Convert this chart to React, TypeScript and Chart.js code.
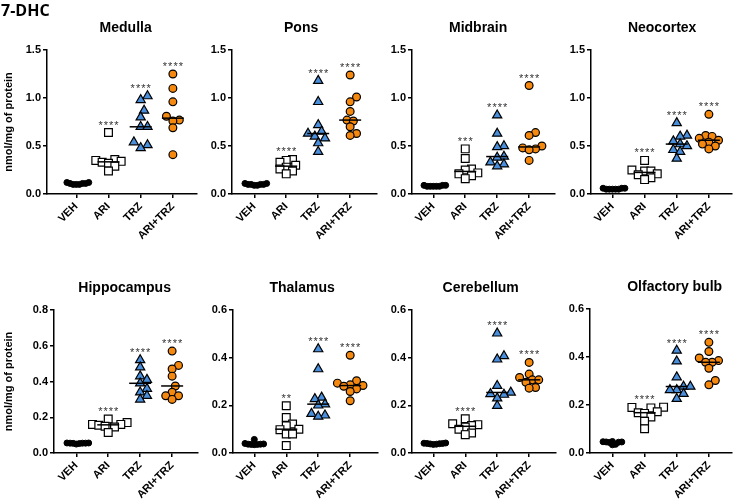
import React, { useEffect, useRef } from 'react';
import { Chart, registerables } from 'chart.js';
Chart.register(...registerables);

// ---------- data ----------
const PAGE_TITLE = '7-DHC';
const Y_LABEL = 'nmol/mg of protein';
const GROUPS = ['VEH', 'ARI', 'TRZ', 'ARI+TRZ'];
const REGIONS = ['Medulla', 'Pons', 'Midbrain', 'Neocortex', 'Hippocampus', 'Thalamus', 'Cerebellum', 'Olfactory bulb'];
const Y_MAX = [1.5, 1.5, 1.5, 1.5, 0.8, 0.6, 0.6, 0.6];
const Y_STEP = [0.5, 0.5, 0.5, 0.5, 0.2, 0.2, 0.2, 0.2];

const MEDULLA = [
  [0.11, 0.10, 0.12, 0.11, 0.10, 0.11, 0.12, 0.10],
  [0.64, 0.36, 0.35, 0.34, 0.33, 0.32, 0.29, 0.24],
  [1.02, 0.98, 0.87, 0.80, 0.70, 0.70, 0.54, 0.51, 0.48],
  [1.25, 1.10, 0.96, 0.81, 0.77, 0.76, 0.69, 0.41],
];
const PONS = [
  [0.11, 0.10, 0.10, 0.09, 0.10, 0.11, 0.09, 0.10],
  [0.36, 0.35, 0.33, 0.30, 0.28, 0.26, 0.24, 0.21],
  [1.18, 0.96, 0.72, 0.65, 0.63, 0.60, 0.58, 0.53, 0.44],
  [1.24, 1.01, 0.96, 0.86, 0.77, 0.76, 0.70, 0.63, 0.61],
];
const MIDBRAIN = [
  [0.09, 0.08, 0.08, 0.09, 0.08, 0.08, 0.09, 0.08],
  [0.47, 0.37, 0.26, 0.25, 0.22, 0.21, 0.19, 0.16],
  [0.82, 0.63, 0.50, 0.49, 0.39, 0.38, 0.33, 0.31, 0.29],
  [1.13, 0.64, 0.61, 0.50, 0.48, 0.47, 0.46, 0.35],
];
const NEOCORTEX = [
  [0.06, 0.05, 0.05, 0.06, 0.05, 0.05, 0.06, 0.05],
  [0.35, 0.25, 0.24, 0.24, 0.21, 0.20, 0.17, 0.15],
  [0.74, 0.61, 0.60, 0.55, 0.52, 0.50, 0.46, 0.44, 0.37],
  [0.83, 0.61, 0.60, 0.58, 0.56, 0.54, 0.52, 0.50, 0.47],
];
const HIPPOCAMPUS = [
  [0.056, 0.055, 0.054, 0.056, 0.053, 0.055, 0.050, 0.055],
  [0.19, 0.17, 0.16, 0.16, 0.155, 0.15, 0.145, 0.115],
  [0.52, 0.48, 0.43, 0.41, 0.39, 0.36, 0.34, 0.32, 0.30],
  [0.57, 0.49, 0.47, 0.43, 0.375, 0.34, 0.32, 0.32, 0.30],
];
const THALAMUS = [
  [0.057, 0.040, 0.038, 0.037, 0.036, 0.037, 0.036, 0.035],
  [0.198, 0.149, 0.122, 0.114, 0.100, 0.098, 0.080, 0.080, 0.031],
  [0.436, 0.352, 0.233, 0.227, 0.205, 0.200, 0.165, 0.158, 0.153],
  [0.410, 0.303, 0.293, 0.286, 0.283, 0.280, 0.269, 0.258, 0.219],
];
const CEREBELLUM = [
  [0.042, 0.040, 0.039, 0.038, 0.040, 0.037, 0.041, 0.036],
  [0.144, 0.123, 0.119, 0.115, 0.109, 0.100, 0.084, 0.077],
  [0.502, 0.407, 0.393, 0.282, 0.254, 0.248, 0.245, 0.230, 0.198],
  [0.380, 0.331, 0.317, 0.307, 0.307, 0.297, 0.275, 0.272],
];
const OLFACTORY_BULB = [
  [0.048, 0.046, 0.045, 0.047, 0.044, 0.036, 0.034, 0.046],
  [0.191, 0.190, 0.188, 0.172, 0.168, 0.165, 0.150, 0.132, 0.101],
  [0.427, 0.382, 0.316, 0.277, 0.277, 0.263, 0.263, 0.247, 0.226],
  [0.461, 0.423, 0.396, 0.385, 0.378, 0.378, 0.353, 0.302, 0.284],
];
const VALUES = [MEDULLA, PONS, MIDBRAIN, NEOCORTEX, HIPPOCAMPUS, THALAMUS, CEREBELLUM, OLFACTORY_BULB];

const STARS = [
  ['', '****', '****', '****'],
  ['', '****', '****', '****'],
  ['', '***', '****', '****'],
  ['', '****', '****', '****'],
  ['', '****', '****', '****'],
  ['', '**', '****', '****'],
  ['', '****', '****', '****'],
  ['', '****', '****', '****'],
];

// ---------- layout / style ----------
const LAYOUT = [
  { cx: 0, cy: 0, cw: 203, ch: 262, left: 47, right: 200, top: 50, bottom: 194, veh: 77, tShift: 4 },
  { cx: 203, cy: 0, cw: 180, ch: 262, left: 232, right: 381, top: 50, bottom: 194, veh: 255, tShift: -3 },
  { cx: 383, cy: 0, cw: 178, ch: 262, left: 412, right: 559, top: 50, bottom: 194, veh: 434, tShift: -5 },
  { cx: 561, cy: 0, cw: 177, ch: 262, left: 591, right: 735, top: 50, bottom: 194, veh: 613, tShift: 1 },
  { cx: 0, cy: 262, cw: 204, ch: 242, left: 54, right: 202, top: 310, bottom: 453, veh: 77, tShift: -1 },
  { cx: 204, cy: 262, cw: 180, ch: 242, left: 233, right: 382, top: 310, bottom: 453, veh: 255, tShift: -3 },
  { cx: 384, cy: 262, cw: 178, ch: 242, left: 412, right: 560, top: 310, bottom: 453, veh: 434, tShift: -3 },
  { cx: 562, cy: 262, cw: 176, ch: 242, left: 590, right: 735, top: 309, bottom: 453, veh: 613, tShift: 14 },
];
const PX_PER_CAT = 33;

const STYLE = [
  { shape: 'circle', radius: 3, fill: '#000000', bw: 1, minDist: 3.2, step: 1.6 },
  { shape: 'rect', radius: 5.5, fill: '#ffffff', bw: 1.2, minDist: 6.5, step: 3.25 },
  { shape: 'triangle', radius: 5.3, fill: '#4a8fdb', bw: 1.2, minDist: 7, step: 3.5 },
  { shape: 'circle', radius: 3.9, fill: '#f5890f', bw: 1.2, minDist: 6.6, step: 3.3 },
];

const FONT = '"Liberation Sans", Arial, sans-serif';

function median(a: number[]) {
  const s = [...a].sort((p, q) => p - q);
  const n = s.length;
  return n % 2 ? s[(n - 1) / 2] : (s[n / 2 - 1] + s[n / 2]) / 2;
}

// deterministic beeswarm: horizontal pixel offsets avoiding overlap
function swarm(vals: number[], pxPerY: number, minDist: number, step: number) {
  const order = vals.map((_, k) => k).sort((a, b) => vals[a] - vals[b]);
  const placed: { x: number; y: number }[] = [];
  const out = new Array(vals.length).fill(0);
  for (const k of order) {
    const y = vals[k] * pxPerY;
    for (let n = 0; n < 60; n++) {
      const m = n === 0 ? 0 : n % 2 ? (n + 1) / 2 : -n / 2;
      const x = m * step;
      if (placed.every((p) => Math.hypot(p.x - x, p.y - y) >= minDist - 1e-9)) {
        placed.push({ x, y });
        out[k] = x;
        break;
      }
    }
  }
  return out;
}

function Panel({ i }: { i: number }) {
  const ref = useRef<HTMLCanvasElement>(null);
  const L = LAYOUT[i];
  useEffect(() => {
    const vals = VALUES[i];
    const xMin = -(L.veh - L.left) / PX_PER_CAT;
    const xMax = xMin + (L.right - L.left) / PX_PER_CAT;
    const pxPerY = (L.bottom - L.top) / Y_MAX[i];
    const datasets = vals.map((arr, g) => {
      const st = STYLE[g];
      const offs = swarm(arr, pxPerY, st.minDist, st.step);
      return {
        label: GROUPS[g],
        data: arr.map((v, k) => ({ x: g + offs[k] / PX_PER_CAT, y: v })),
        pointStyle: st.shape,
        pointRadius: st.radius,
        pointHoverRadius: st.radius,
        backgroundColor: st.fill,
        borderColor: '#000',
        borderWidth: st.bw,
        showLine: false,
        clip: false as any,
      };
    });
    const decor = {
      id: 'decor' + i,
      afterDatasetsDraw(chart: any) {
        const { ctx, scales } = chart;
        const x = scales.x, y = scales.y;
        ctx.save();
        ctx.strokeStyle = '#000';
        ctx.lineWidth = 1.5;
        vals.forEach((arr, g) => {
          const px = x.getPixelForValue(g);
          const py = y.getPixelForValue(median(arr));
          ctx.beginPath();
          ctx.moveTo(px - 11, py);
          ctx.lineTo(px + 11, py);
          ctx.stroke();
        });
        ctx.fillStyle = '#333';
        ctx.font = '11px ' + FONT;
        ctx.textAlign = 'center';
        ctx.textBaseline = 'alphabetic';
        try { (ctx as any).letterSpacing = '1px'; } catch (e) {}
        vals.forEach((arr, g) => {
          const s = STARS[i][g];
          if (!s) return;
          const px = x.getPixelForValue(g);
          const py = y.getPixelForValue(Math.max(...arr));
          ctx.fillText(s, px + 0.5, py - 4);
        });
        ctx.restore();
      },
      afterDraw(chart: any) {
        const { ctx, chartArea } = chart;
        ctx.save();
        ctx.fillStyle = '#000';
        ctx.font = 'bold 14px ' + FONT;
        ctx.textAlign = 'center';
        ctx.textBaseline = 'middle';
        ctx.fillText(REGIONS[i], (chartArea.left + chartArea.right) / 2 + L.tShift, chartArea.top - 22);
        ctx.restore();
      },
    };
    const tickFont = { family: FONT, size: 11, weight: 'bold' as const };
    const axisGrid = {
      display: true,
      drawOnChartArea: false,
      drawTicks: true,
      tickLength: 4,
      color: '#000',
      tickColor: '#000',
      tickWidth: 1.5,
      lineWidth: 1.5,
    };
    const chart = new Chart(ref.current!, {
      type: 'scatter',
      data: { datasets: datasets as any },
      plugins: [decor],
      options: {
        animation: false,
        responsive: false,
        maintainAspectRatio: false,
        devicePixelRatio: 1,
        layout: { padding: { top: L.top - L.cy, right: L.cx + L.cw - L.right, left: 0, bottom: 0 } },
        plugins: { legend: { display: false }, tooltip: { enabled: false } },
        scales: {
          x: {
            type: 'linear',
            min: xMin,
            max: xMax,
            grid: axisGrid,
            border: { display: true, color: '#000', width: 1.5 },
            afterBuildTicks: (s: any) => {
              s.ticks = GROUPS.map((_, g) => ({ value: g }));
            },
            afterFit: (s: any) => {
              s.height = L.cy + L.ch - L.bottom;
            },
            ticks: {
              autoSkip: false,
              minRotation: 45,
              maxRotation: 45,
              padding: 2,
              color: '#000',
              font: tickFont,
              callback: (_v: any, idx: number) => GROUPS[idx],
            },
          },
          y: {
            type: 'linear',
            min: 0,
            max: Y_MAX[i],
            grid: axisGrid,
            border: { display: true, color: '#000', width: 1.5 },
            afterFit: (s: any) => {
              s.width = L.left - L.cx;
            },
            ticks: {
              stepSize: Y_STEP[i],
              padding: 2,
              color: '#000',
              font: tickFont,
              callback: (v: any) => Number(v).toFixed(1),
            },
            title: {
              display: i % 4 === 0,
              text: Y_LABEL,
              color: '#000',
              font: { family: FONT, size: 11, weight: 'bold' },
              padding: { top: 2, bottom: 0 },
            },
          },
        },
      } as any,
    });
    return () => chart.destroy();
  }, []);
  return (
    <canvas
      ref={ref}
      width={L.cw}
      height={L.ch}
      style={{ position: 'absolute', left: L.cx, top: L.cy, width: L.cw, height: L.ch }}
    />
  );
}

export default function App() {
  return (
    <div style={{ position: 'fixed', left: 0, top: 0, width: 738, height: 504, background: '#fff', overflow: 'hidden' }}>
      {REGIONS.map((_, i) => (
        <Panel key={i} i={i} />
      ))}
      <div
        style={{
          position: 'absolute',
          left: 1,
          top: 0,
          font: 'bold 16px "Open Sans", sans-serif',
          lineHeight: '20px',
          color: '#000',
          zIndex: 2,
        }}
      >
        {PAGE_TITLE}
      </div>
    </div>
  );
}
